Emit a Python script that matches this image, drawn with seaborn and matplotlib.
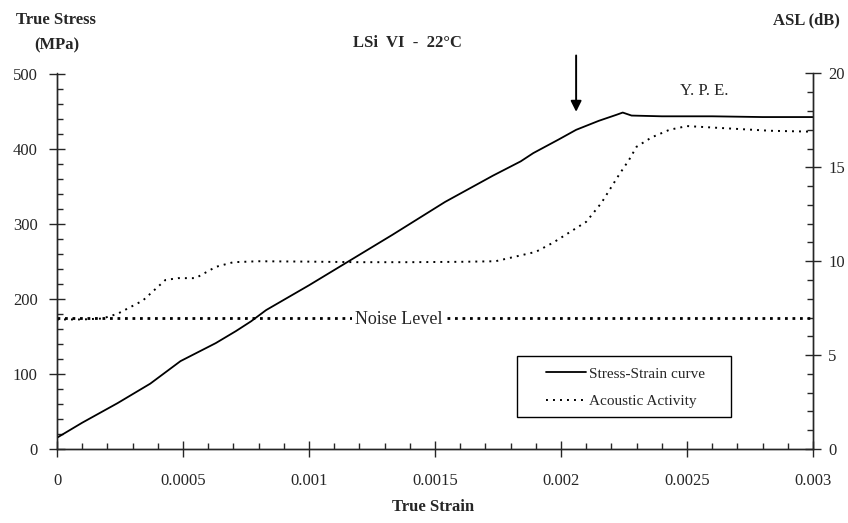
import matplotlib
matplotlib.use("Agg")
import matplotlib.pyplot as plt
from matplotlib.lines import Line2D
from matplotlib.patches import Rectangle
from matplotlib.ticker import FixedLocator, MultipleLocator
import pandas as pd
import seaborn as sns

# Stress-strain curve (true strain, true stress in MPa)
stress_strain = [0, 0.0001, 0.00024, 0.00037, 0.00049, 0.00063, 0.00071, 0.00077,
                 0.00083, 0.0010, 0.00133, 0.00154, 0.00173, 0.00184, 0.00189,
                 0.00199, 0.00206, 0.00215, 0.00222, 0.002245, 0.00228, 0.0024,
                 0.0026, 0.0028, 0.003]
stress_mpa = [15, 35, 61, 87, 117, 141, 157, 170, 185, 218, 285, 329, 364, 383,
              394, 412, 425, 437, 445, 448, 444, 443, 443, 442, 442]

# Acoustic activity (ASL in dB)
asl_strain = [0, 0.0001, 0.00018, 0.00024, 0.00034, 0.00043, 0.00048, 0.00055,
              0.00063, 0.0007, 0.0008, 0.001, 0.0012, 0.0014, 0.0016, 0.00174,
              0.0019, 0.00197, 0.0021, 0.00216, 0.00223, 0.00227, 0.0023,
              0.00236, 0.00243, 0.0025, 0.00263, 0.00283, 0.003]
asl_db = [6.9, 6.9, 6.95, 7.2, 7.9, 9.0, 9.1, 9.1, 9.7, 9.95, 10.0, 9.98, 9.95,
          9.95, 9.97, 10.0, 10.5, 11.0, 12.1, 13.1, 14.6, 15.4, 16.1, 16.6,
          17.0, 17.2, 17.1, 16.95, 16.9]

noise_level_db = 7.0

x_ticks = [0, 0.0005, 0.001, 0.0015, 0.002, 0.0025, 0.003]
x_tick_labels = ["0", "0.0005", "0.001", "0.0015", "0.002", "0.0025", "0.003"]
stress_ticks = [0, 100, 200, 300, 400, 500]
asl_ticks = [0, 5, 10, 15, 20]

sns.set_style("ticks")
plt.rcParams["font.family"] = ["Liberation Serif", "DejaVu Serif"]
plt.rcParams["axes.linewidth"] = 1.0

fig = plt.figure(figsize=(8.48, 5.23), dpi=100)
ax = fig.add_subplot(111)
fig.subplots_adjust(left=57 / 848, right=813 / 848, bottom=1 - 449 / 523, top=1 - 73.5 / 523)
ax2 = ax.twinx()

df_stress = pd.DataFrame({"strain": stress_strain, "stress": stress_mpa})
df_asl = pd.DataFrame({"strain": asl_strain, "asl": asl_db})

solid_style = dict(color="black", linewidth=1.3)
dot_style = dict(color="black", linewidth=1.4, linestyle=(0, (1, 2.6)))

sns.lineplot(data=df_stress, x="strain", y="stress", ax=ax, sort=False,
             estimator=None, **solid_style)
sns.lineplot(data=df_asl, x="strain", y="asl", ax=ax2, sort=False,
             estimator=None, **dot_style)
ax2.axhline(noise_level_db, color="black", linewidth=2.0, linestyle=(0, (1, 1.7)))
ax2.text(0.001357, noise_level_db - 0.1, "Noise Level", ha="center", va="center",
         fontsize=13, bbox=dict(boxstyle="square,pad=0.2", fc="white", ec="none"))

# Axes limits and ticks
ax.set_xlim(0, 0.003)
ax.set_ylim(0, 500)
ax2.set_ylim(0, 20)
ax.xaxis.set_major_locator(FixedLocator(x_ticks))
ax.set_xticklabels(x_tick_labels)
ax.xaxis.set_minor_locator(MultipleLocator(0.0001))
ax.yaxis.set_major_locator(FixedLocator(stress_ticks))
ax.yaxis.set_minor_locator(MultipleLocator(20))
ax2.yaxis.set_major_locator(FixedLocator(asl_ticks))
ax2.yaxis.set_minor_locator(MultipleLocator(1))

ax.tick_params(axis="x", which="major", direction="inout", length=12, width=1.0,
               labelsize=12, pad=11)
ax.tick_params(axis="y", which="major", direction="inout", length=12, width=1.0,
               labelsize=12, pad=8)
ax.tick_params(which="minor", direction="in", length=4, width=1.0)
ax2.tick_params(axis="y", which="major", direction="inout", length=12, width=1.0,
                labelsize=12, pad=5)
ax2.tick_params(axis="y", which="minor", direction="in", length=4, width=1.0)

for a in (ax, ax2):
    a.spines["top"].set_visible(False)
    a.set_xlabel("")
    a.set_ylabel("")
ax2.spines["right"].set_visible(True)

# Yield point elongation marker
ax.annotate("", xy=(0.00206, 449), xytext=(0.00206, 524),
            arrowprops=dict(arrowstyle="-|>", color="black", lw=1.4,
                            mutation_scale=16, shrinkA=0, shrinkB=0),
            annotation_clip=False)
ax.text(0.00257, 477, "Y. P. E.", ha="center", va="center", fontsize=12)

# Legend with a plain rectangular frame
ax2.add_patch(Rectangle((0.609, 0.085), 0.283, 0.163, transform=ax2.transAxes,
                        facecolor="white", edgecolor="black", linewidth=1.0,
                        zorder=4))
handles = [Line2D([], [], **solid_style), Line2D([], [], **dot_style)]
leg = ax2.legend(handles, ["Stress-Strain curve", "Acoustic Activity"],
                 loc="center left", bbox_to_anchor=(0.647, 0.164), frameon=False,
                 fontsize=11, handlelength=2.6, handletextpad=0.2,
                 labelspacing=0.9, borderpad=0, borderaxespad=0)
leg.set_zorder(5)

# Titles and axis labels
fig.text(56 / 848, 1 - 20 / 523, "True Stress", ha="center", va="center",
         fontsize=12, fontweight="bold")
fig.text(57 / 848, 1 - 45 / 523, "(MPa)", ha="center", va="center",
         fontsize=12, fontweight="bold")
fig.text(806 / 848, 1 - 20 / 523, "ASL (dB)", ha="center", va="center",
         fontsize=12, fontweight="bold")
fig.text(407 / 848, 1 - 43 / 523, "LSi  VI  -  22\u00b0C", ha="center", va="center",
         fontsize=12, fontweight="bold")
fig.text(433 / 848, 1 - 507 / 523, "True Strain", ha="center", va="center",
         fontsize=12, fontweight="bold")

fig.savefig("out.png", dpi=100)
